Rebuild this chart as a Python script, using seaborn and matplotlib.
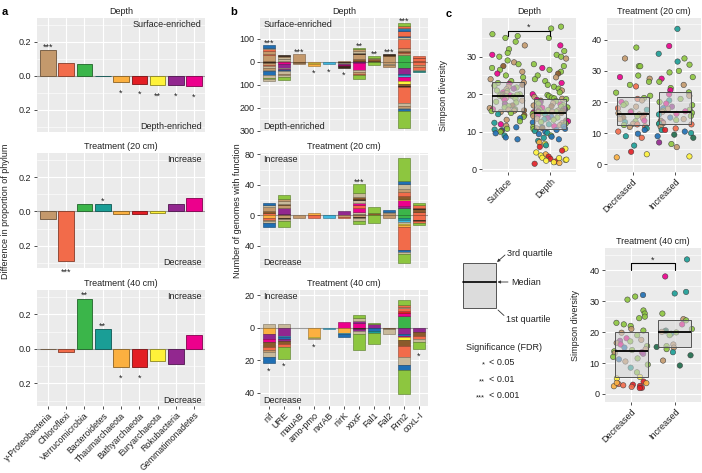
import numpy as np
import pandas as pd
import matplotlib
matplotlib.use("Agg")
import matplotlib.pyplot as plt
import matplotlib.colors as mcolors
from matplotlib.ticker import FixedLocator, FuncFormatter, NullLocator
import seaborn as sns

# ---------------- data ----------------
PAL = {
    "T": "#C4996C", "C": "#F26B4A", "V": "#3BB54A", "B": "#1A9E96",
    "O": "#FBB040", "R": "#E31E24", "Y": "#FFF23A", "P": "#92278F",
    "M": "#EC008C", "U": "#1F6FB4", "L": "#3FB8E0", "W": "#8B5A2B",
    "K": "#3A2618", "G": "#C8B99A", "E": "#8DC63F", "D": "#1E6B4A",
}

phyla = ["γ-Proteobacteria", "Chloroflexi", "Verrucomicrobia", "Bacteroidetes",
         "Thaumarchaeota", "Bathyarchaeota", "Euryarchaeota", "Rokubacteria",
         "Gemmatimonadetes"]
phyla_codes = ["T", "C", "V", "B", "O", "R", "Y", "P", "M"]
a_depth = [0.150, 0.078, 0.068, 0.002, -0.038, -0.048, -0.055, -0.055, -0.062]
a_t20 = [-0.042, -0.290, 0.045, 0.040, -0.018, -0.015, -0.008, 0.045, 0.078]
a_t40 = [-0.002, -0.020, 0.290, 0.115, -0.105, -0.105, -0.070, -0.085, 0.082]
a_depth_sig = ["***", "", "", "", "*", "*", "**", "*", "*"]
a_t20_sig = ["", "***", "", "*", "", "", "", "", ""]
a_t40_sig = ["", "", "**", "**", "*", "*", "", "", ""]

functions = ["nif", "URE", "mauAB", "amo-pmo", "nxrAB", "nirK", "xoxF",
             "Fal1", "Fal2", "Frm2", "coxL-I"]

# stacked segments (phylum code, genomes): up = enriched/increase, down = depleted/decrease
b_depth_up = [
    [("W", 5), ("T", 22), ("C", 6), ("T", 12), ("C", 12), ("G", 4), ("U", 11)],
    [("T", 5), ("G", 5), ("K", 3), ("G", 6), ("T", 5), ("K", 3)],
    [("T", 32)],
    [],
    [],
    [("T", 4)],
    [("K", 4), ("W", 6), ("T", 25), ("K", 4), ("G", 8), ("T", 8), ("E", 6)],
    [("K", 4), ("W", 6), ("T", 6), ("E", 7)],
    [("T", 24), ("W", 6), ("K", 2)],
    [("V", 28), ("T", 10), ("C", 6), ("W", 4), ("T", 12), ("C", 40), ("G", 8),
     ("U", 5), ("C", 20), ("U", 8), ("L", 4), ("C", 12), ("E", 10)],
    [("W", 3), ("C", 12), ("K", 2), ("C", 6)],
]
b_depth_down = [
    [("K", 6), ("T", 8), ("C", 6), ("G", 6), ("T", 10), ("G", 6), ("U", 18),
     ("G", 10), ("E", 6), ("G", 7)],
    [("O", 3), ("M", 5), ("P", 18), ("G", 6), ("P", 6), ("U", 4), ("G", 12),
     ("T", 6), ("G", 6), ("E", 15)],
    [("W", 4), ("T", 8)],
    [("O", 6), ("Y", 3), ("O", 8)],
    [("L", 10)],
    [("K", 4), ("G", 4), ("P", 5), ("K", 3), ("M", 4), ("K", 6)],
    [("P", 5), ("M", 30), ("G", 10), ("T", 8), ("C", 4), ("E", 20)],
    [("E", 15)],
    [("T", 8), ("G", 6), ("T", 8)],
    [("V", 29), ("P", 26), ("U", 5), ("L", 5), ("M", 20), ("Y", 13), ("W", 8),
     ("K", 3), ("C", 70), ("G", 15), ("T", 6), ("G", 4), ("U", 12), ("E", 74)],
    [("C", 15), ("T", 10), ("C", 12), ("G", 4), ("B", 5)],
]
b_depth_sig = ["***", "", "***", "*", "*", "*", "**", "**", "***", "***", ""]
b_depth_sig_down = [False, False, False, True, True, True, False, False, False, False, False]

b_t20_up = [
    [("C", 3), ("W", 3), ("T", 5), ("G", 2), ("U", 3)],
    [("K", 2), ("P", 8), ("T", 3), ("W", 2), ("G", 4), ("T", 2), ("E", 6)],
    [],
    [("W", 1), ("O", 2)],
    [("L", 1)],
    [("P", 6)],
    [("K", 2), ("G", 3), ("M", 5), ("C", 3), ("M", 3), ("G", 4), ("K", 1),
     ("W", 3), ("G", 5), ("E", 12)],
    [("W", 3), ("E", 8)],
    [("T", 3), ("G", 2), ("U", 2)],
    [("V", 9), ("P", 3), ("M", 8), ("Y", 1), ("W", 5), ("C", 5), ("T", 4),
     ("G", 6), ("U", 4), ("E", 30)],
    [("C", 4), ("W", 4), ("K", 1), ("C", 4), ("E", 3)],
]
b_t20_down = [
    [("O", 3), ("C", 3), ("T", 2), ("G", 2), ("U", 5)],
    [("T", 3), ("K", 2), ("G", 2), ("E", 8)],
    [("T", 4)],
    [("C", 3)],
    [("L", 4)],
    [("T", 2), ("C", 2)],
    [("T", 2), ("K", 1), ("G", 4), ("E", 4)],
    [("E", 10)],
    [("T", 4)],
    [("V", 3), ("B", 3), ("L", 3), ("G", 2), ("Y", 2), ("O", 2), ("C", 30),
     ("U", 3), ("G", 2), ("E", 13)],
    [("C", 6), ("K", 1), ("C", 3), ("E", 3)],
]
b_t20_sig = ["", "", "", "", "", "", "***", "", "", "", ""]
b_t20_sig_down = [False] * 11

b_t40_up = [
    [("G", 2.5)],
    [("G", 2.5)],
    [],
    [],
    [],
    [("M", 3.5)],
    [("M", 3), ("P", 1), ("G", 2), ("E", 2)],
    [("P", 2), ("E", 1)],
    [],
    [("V", 7), ("M", 2), ("R", 1), ("C", 2), ("G", 1), ("C", 1), ("E", 3)],
    [],
]
b_t40_down = [
    [("O", 4), ("P", 3), ("M", 2), ("W", 3), ("C", 2), ("T", 1), ("G", 3), ("U", 4)],
    [("P", 5), ("L", 1), ("U", 1), ("P", 1), ("W", 2), ("C", 2), ("E", 7)],
    [],
    [("O", 6), ("Y", 0.5), ("G", 0.5)],
    [("L", 1)],
    [("O", 3), ("L", 1), ("U", 2)],
    [("K", 1), ("P", 1), ("G", 2), ("E", 10)],
    [("U", 2), ("B", 1), ("E", 7)],
    [("W", 1), ("G", 3)],
    [("P", 4), ("U", 1), ("M", 1), ("Y", 1.5), ("W", 3.5), ("C", 7), ("G", 5),
     ("U", 3), ("E", 15)],
    [("P", 2.5), ("W", 2.5), ("C", 2), ("G", 1.5), ("E", 4.5)],
]
b_t40_sig = ["*", "*", "", "*", "", "", "", "", "", "", "*"]
b_t40_sig_down = [True, True, False, True, False, False, False, False, False, False, True]

# Simpson diversity per sample (value, colour code of dominant phylum)
surface_vals = [36.0, 35.5, 35.0, 34.0, 33.0, 32.0, 31.0, 30.5, 30.0, 29.0, 28.5,
                28.0, 27.5, 27.0, 26.5, 26.0, 25.5, 25.0, 24.5, 24.0, 23.5,
                23.1, 23.0, 22.8, 22.5, 22.3, 22.0, 21.8, 21.5, 21.3, 21.0, 20.8,
                20.5, 20.3, 20.0, 20.0, 19.9, 19.8, 19.7, 19.6, 19.5, 19.5,
                19.4, 19.2, 19.0, 18.8, 18.5, 18.3, 18.0, 17.8, 17.5, 17.3, 17.0,
                16.8, 16.5, 16.3, 16.0, 16.0, 15.9, 15.8, 15.7, 15.6, 15.5,
                15.3, 15.0, 14.7, 14.4, 14.0, 13.6, 13.2, 12.8, 12.4, 12.0, 11.6,
                11.2, 10.8, 10.6, 10.4, 10.2, 10.0, 9.6, 9.0, 8.5, 8.0]
surface_cols = ("EEEETEEMEETEWEETMEETE" "TEMWETEPTEEMTWEETMEET"
                "EWTEMTEETPWEETMETEWTE" "TEBWEUTEBMTUEBUWEUBUU")
depth_vals = [38.0, 37.5, 35.0, 33.0, 31.5, 30.5, 30.0, 29.5, 28.0, 27.5, 27.0, 26.5,
              26.0, 25.5, 25.0, 24.5, 24.0, 23.5, 23.0, 22.5, 22.0, 21.5, 21.0, 20.5,
              20.0, 19.8, 19.5, 19.3, 19.1, 18.9,
              18.8, 18.7, 18.5, 18.3, 18.2, 18.0, 17.8, 17.6, 17.5, 17.3, 17.1, 17.0,
              16.8, 16.7, 16.5, 16.4, 16.2, 16.1, 16.0, 15.9, 15.8, 15.7, 15.6, 15.5,
              15.4, 15.3, 15.3, 15.2, 15.2, 15.1,
              15.0, 14.9, 14.8, 14.6, 14.5, 14.3, 14.2, 14.0, 13.8, 13.7, 13.5, 13.3,
              13.2, 13.0, 12.8, 12.6, 12.5, 12.3, 12.2, 12.0, 11.8, 11.7, 11.5, 11.4,
              11.3, 11.2, 11.0, 10.9, 10.8, 10.7,
              10.5, 10.2, 10.0, 9.7, 9.4, 9.0, 8.7, 8.4, 8.0, 7.6, 7.2, 6.8, 6.4, 6.0,
              5.5, 5.0, 4.5, 4.0, 3.7, 3.4, 3.1, 2.8, 2.5, 2.3, 2.1, 1.9, 1.7, 1.5,
              3.0, 2.6]
depth_cols = ("EEEMEEETEEMEEWETEEMEEETEMEETEE" "TEMWEEPTEMETWEEMTEPEETWMEETEME"
              "WTEBEMTUEPTBEWMEUTEBTEMUEBWTUE" "UBUBUEUBUBOYBRYRYOYRYRYYRYORYY")
t20_dec_vals = [37.5, 34.0, 31.5, 31.5, 28.5, 28.0, 27.5, 26.5, 25.5, 25.0, 23.0, 22.0,
                21.3, 21.0, 20.5, 20.0, 19.5, 19.0, 18.5, 18.0, 17.5, 17.0, 16.8, 16.4,
                16.0, 15.8, 15.5, 15.0, 14.8, 14.5, 14.0, 13.8, 13.5, 13.0, 12.8, 12.6,
                12.2, 12.0, 11.5, 11.0, 10.5, 9.8, 9.0, 8.5, 6.0, 4.0, 3.2, 2.2]
t20_dec_cols = "ETEEEMTEECEE" "ECTMEETCBEMT" "TCEWCTMEBTCE" "CTBUCUBCBRYO"
t20_inc_vals = [43.5, 38.0, 35.5, 34.0, 33.0, 32.0, 30.0, 29.5, 28.0, 27.5, 26.5, 25.5,
                24.5, 23.8,
                23.1, 22.5, 22.0, 21.0, 20.5, 20.0, 19.5, 19.0, 18.5, 18.0, 17.8, 17.5,
                17.2, 17.0,
                16.8, 16.5, 16.2, 16.0, 15.5, 15.0, 14.5, 14.2, 14.0, 13.8, 13.5, 13.2,
                13.0, 13.0,
                12.8, 12.0, 11.5, 11.0, 11.0, 10.5, 10.0, 9.5, 9.0, 8.5, 7.0, 6.5, 5.5, 2.5]
t20_inc_cols = "BMBEBEEEEMETEM" "EMTEBEMEPUTEEM" "TEMBEUTECEMTEB" "CTCBRUBDUDPETY"
t40_dec_vals = [32.0, 31.5, 30.5, 27.0, 26.0, 25.0, 24.5, 23.0, 22.5, 22.0, 21.0, 20.5,
                19.8, 19.0, 18.0, 17.5, 17.2, 17.0, 16.5, 16.0, 15.5, 15.0, 14.5, 14.2,
                13.8, 13.5, 13.2, 13.0, 12.0, 11.5, 11.2, 10.5, 9.5, 8.5, 7.0, 5.5,
                5.0, 4.0, 3.5, 3.2, 3.0, 2.8, 2.6, 2.5, 2.3, 2.0, 1.9, 3.6]
t40_dec_cols = "UEEEEEEEEETE" "TEMTPETMEUTE" "EMTPEEUTEBEY" "YROCRCROCRRO"
t40_inc_vals = [43.5, 38.0, 33.0, 32.5, 26.0, 24.2,
                23.8, 22.5, 21.0, 20.5, 20.3, 20.1,
                19.9, 19.5, 19.0, 16.0, 15.5, 15.2,
                15.0, 14.5, 13.5, 12.5, 10.8, 9.2]
t40_inc_cols = "BMBBET" "EMEBDT" "EBETED" "TEBDTD"

# ---------------- style ----------------
W, H = 702, 473
sns.set_theme(style="darkgrid", rc={
    "axes.facecolor": "#EBEBEB", "grid.color": "white",
    "axes.edgecolor": "#EBEBEB", "figure.facecolor": "white"})
plt.rcParams["font.family"] = ["Liberation Sans", "DejaVu Sans"]
FS = 6.5
TXT = "#222222"

fig = plt.figure(figsize=(W / 100, H / 100), dpi=100)


def add_ax(x0, y0, x1, y1):
    return fig.add_axes([x0 / W, 1 - y1 / H, (x1 - x0) / W, (y1 - y0) / H])


def darken(c, f=0.6):
    r, g, b = mcolors.to_rgb(c)
    return (r * f, g * f, b * f)


def style_ax(ax, yt, ymin, show_x, fmt):
    ax.set_axisbelow(True)
    for s in ax.spines.values():
        s.set_visible(False)
    ax.yaxis.set_major_locator(FixedLocator(yt))
    ax.yaxis.set_minor_locator(FixedLocator(ymin))
    ax.yaxis.set_major_formatter(FuncFormatter(fmt))
    ax.xaxis.set_minor_locator(NullLocator())
    ax.grid(which="major", color="white", lw=0.8)
    ax.grid(which="minor", axis="y", color="white", lw=0.4)
    ax.tick_params(axis="both", which="major", length=2.5, width=0.6, color="#333333",
                   labelsize=FS, labelcolor=TXT, pad=1.5, left=True, bottom=True)
    ax.tick_params(axis="y", which="minor", length=0, left=False)
    if not show_x:
        ax.tick_params(axis="x", length=0, labelbottom=False)
    ax.set_xlabel("")
    ax.set_ylabel("")


def rot_labels(ax, labels, fs=FS):
    ax.set_xticks(range(len(labels)))
    ax.set_xticklabels(labels, rotation=45, ha="right", va="top",
                       rotation_mode="anchor", fontsize=fs, color=TXT)
    ax.tick_params(axis="x", pad=1.0)


def star(ax, x, y, s, down, up_off=0.0, down_off=-8.5):
    ax.annotate(s, (x, y), xytext=(0, down_off if down else up_off),
                textcoords="offset points", ha="center", va="baseline",
                fontsize=FS, color=TXT)


fmt_a = lambda v, p: f"{abs(v):.1f}"
fmt_b = lambda v, p: f"{abs(v):g}"
fmt_c = lambda v, p: f"{v:g}"

rows = [(18, 132), (153, 268), (290, 406)]

# ---------------- panel a ----------------
a_data = [(a_depth, a_depth_sig, "Depth", "Surface-enriched", "Depth-enriched"),
          (a_t20, a_t20_sig, "Treatment (20 cm)", "Increase", "Decrease"),
          (a_t40, a_t40_sig, "Treatment (40 cm)", "Increase", "Decrease")]
pal_a = {p: PAL[c] for p, c in zip(phyla, phyla_codes)}
for r, (vals, sig, title, top_t, bot_t) in enumerate(a_data):
    ax = add_ax(37, rows[r][0], 205, rows[r][1])
    ax.axhline(0, color="#9A9A9A", lw=0.8, zorder=0.8)
    sns.barplot(x=phyla, y=vals, hue=phyla, palette=pal_a, order=phyla,
                legend=False, width=0.85, saturation=1, ax=ax, zorder=2)
    for p, code in zip(ax.patches, phyla_codes):
        p.set_edgecolor(darken(PAL[code], 0.55))
        p.set_linewidth(0.6)
    ax.set_xlim(-0.6, 8.6)
    ax.set_ylim(-0.33, 0.34)
    style_ax(ax, [-0.2, 0.0, 0.2], [-0.3, -0.1, 0.1, 0.3], r == 2, fmt_a)
    if r == 2:
        rot_labels(ax, phyla, fs=6.3)
    for i, (v, s) in enumerate(zip(vals, sig)):
        if s:
            star(ax, i, v, s, v < 0, up_off=0.5, down_off=-9.5)
    ax.set_title(title, fontsize=FS, color=TXT, pad=3)
    ax.text(0.98, 0.947, top_t, transform=ax.transAxes, ha="right", va="center",
            fontsize=FS, color=TXT)
    ax.text(0.98, 0.044, bot_t, transform=ax.transAxes, ha="right", va="center",
            fontsize=FS, color=TXT)

fig.text(6 / W, 1 - 211 / H, "Difference in proportion of phylum", rotation=90,
         ha="center", va="center", fontsize=FS, color=TXT)

# ---------------- panel b ----------------
b_data = [(b_depth_up, b_depth_down, b_depth_sig, b_depth_sig_down, "Depth",
           "Surface-enriched", "Depth-enriched", (-306, 190),
           [-300, -200, -100, 0, 100], [-250, -150, -50, 50, 150]),
          (b_t20_up, b_t20_down, b_t20_sig, b_t20_sig_down, "Treatment (20 cm)",
           "Increase", "Decrease", (-69, 81.7), [-40, 0, 40, 80], [-60, -20, 20, 60]),
          (b_t40_up, b_t40_down, b_t40_sig, b_t40_sig_down, "Treatment (40 cm)",
           "Increase", "Decrease", (-48.2, 23.2), [-40, -20, 0, 20], [-30, -10, 10])]
for r, (ups, downs, sig, sigd, title, top_t, bot_t, yl, yt, ym) in enumerate(b_data):
    ax = add_ax(260, rows[r][0], 428, rows[r][1])
    ax.axhline(0, color="#9A9A9A", lw=0.8, zorder=0.8)
    for i in range(len(functions)):
        b = 0.0
        for code, h in ups[i]:
            ax.bar(i, h, bottom=b, width=0.8, color=PAL[code],
                   edgecolor=darken(PAL[code], 0.6), lw=0.4, zorder=2)
            b += h
        top = b
        b = 0.0
        for code, h in downs[i]:
            ax.bar(i, -h, bottom=b, width=0.8, color=PAL[code],
                   edgecolor=darken(PAL[code], 0.6), lw=0.4, zorder=2)
            b -= h
        bottom = b
        if sig[i]:
            if sigd[i]:
                star(ax, i, bottom, sig[i], True, down_off=-7.5)
            else:
                star(ax, i, top, sig[i], False, up_off=-0.5)
    ax.set_xlim(-0.6, 10.6)
    ax.set_ylim(*yl)
    style_ax(ax, yt, ym, r == 2, fmt_b)
    if r == 2:
        rot_labels(ax, functions)
    else:
        ax.set_xticks(range(len(functions)))
    ax.set_title(title, fontsize=FS, color=TXT, pad=3)
    ax.text(0.02, 0.947, top_t, transform=ax.transAxes, ha="left", va="center",
            fontsize=FS, color=TXT)
    ax.text(0.02, 0.044, bot_t, transform=ax.transAxes, ha="left", va="center",
            fontsize=FS, color=TXT)

fig.text(238 / W, 1 - 211 / H, "Number of genomes with function", rotation=90,
         ha="center", va="center", fontsize=FS, color=TXT)

# ---------------- panel c ----------------
c_data = [
    ((482, 18, 576, 172), ["Surface", "Depth"], [surface_vals, depth_vals],
     [surface_cols, depth_cols], "Depth", (-0.7, 40.3), [0, 10, 20, 30],
     [5, 15, 25, 35], (35.4, 36.9)),
    ((607, 18, 701, 172), ["Decreased", "Increased"], [t20_dec_vals, t20_inc_vals],
     [t20_dec_cols, t20_inc_cols], "Treatment (20 cm)", (-2.5, 47),
     [0, 10, 20, 30, 40], [5, 15, 25, 35, 45], None),
    ((605, 248, 701, 402), ["Decreased", "Increased"], [t40_dec_vals, t40_inc_vals],
     [t40_dec_cols, t40_inc_cols], "Treatment (40 cm)", (-2.6, 47.2),
     [0, 10, 20, 30, 40], [5, 15, 25, 35, 45], (40.1, 42.3)),
]
np.random.seed(7)
for box, groups, vals, cols, title, yl, yt, ym, bracket in c_data:
    ax = add_ax(*box)
    df = pd.DataFrame({
        "group": np.concatenate([[g] * len(v) for g, v in zip(groups, vals)]),
        "value": np.concatenate(vals),
        "code": list("".join(cols)),
    })
    sns.stripplot(data=df, x="group", y="value", hue="code", palette=PAL,
                  order=groups, jitter=0.42, size=3.9, linewidth=0.4,
                  edgecolor="#3a3a3a", alpha=0.9, legend=False, ax=ax, zorder=2)
    sns.boxplot(data=df, x="group", y="value", order=groups, width=0.75, whis=0,
                showcaps=False, showfliers=False, color="#D4D4D4",
                linecolor="#555555", linewidth=0.7,
                medianprops=dict(color="black", linewidth=1.3), ax=ax)
    for p in ax.patches:
        p.set_facecolor((0.83, 0.83, 0.83, 0.55))
        p.set_zorder(3)
    for ln in ax.lines:
        ln.set_zorder(4)
    ax.set_xlim(-0.6, 1.6)
    ax.set_ylim(*yl)
    style_ax(ax, yt, ym, True, fmt_c)
    rot_labels(ax, groups)
    ax.set_title(title, fontsize=FS, color=TXT, pad=3)
    if bracket:
        lo, hi = bracket
        ax.plot([0, 0, 1, 1], [lo, hi, hi, lo], color="black", lw=0.8, zorder=5)
        ax.annotate("*", (0.5, hi), xytext=(0, 0.5), textcoords="offset points",
                    ha="center", va="baseline", fontsize=FS, color=TXT)

fig.text(444 / W, 1 - 95 / H, "Simpson diversity", rotation=90, ha="center",
         va="center", fontsize=FS, color=TXT)
fig.text(576 / W, 1 - 325 / H, "Simpson diversity", rotation=90, ha="center",
         va="center", fontsize=FS, color=TXT)

# ---------------- box legend ----------------
lax = fig.add_axes([0, 0, 1, 1], facecolor="none")
lax.set_xlim(0, W)
lax.set_ylim(H, 0)
lax.axis("off")
lax.add_patch(plt.Rectangle((463, 263), 33, 45, facecolor="#DCDCDC",
                            edgecolor="#555555", lw=0.7))
lax.plot([463, 496], [282, 282], color="black", lw=1.2)
lax.annotate("", xy=(497, 262), xytext=(505, 255),
             arrowprops=dict(arrowstyle="-|>", color="#333333", lw=0.6,
                             mutation_scale=4, shrinkA=0, shrinkB=0))
lax.text(507, 253, "3rd quartile", ha="left", va="center", fontsize=FS, color=TXT)
lax.annotate("", xy=(497.5, 282), xytext=(508, 282),
             arrowprops=dict(arrowstyle="-|>", color="#333333", lw=0.6,
                             mutation_scale=4, shrinkA=0, shrinkB=0))
lax.text(511, 282, "Median", ha="left", va="center", fontsize=FS, color=TXT)
lax.plot([498, 504], [310, 315.5], color="#333333", lw=0.6)
lax.text(506, 319, "1st quartile", ha="left", va="center", fontsize=FS, color=TXT)
lax.text(466, 347, "Significance (FDR)", ha="left", va="center", fontsize=FS, color=TXT)
for yy, s, tx in [(362.5, "*", "< 0.05"), (379, "**", "< 0.01"), (395, "***", "< 0.001")]:
    lax.text(485, yy + 4, s, ha="right", va="baseline", fontsize=FS - 1, color=TXT)
    lax.text(489, yy, tx, ha="left", va="center", fontsize=FS, color=TXT)

# panel letters
for x, y, s in [(5, 12, "a"), (234, 12, "b"), (449, 14, "c")]:
    fig.text(x / W, 1 - y / H, s, ha="center", va="center", fontsize=8,
             fontweight="bold", color="black")

fig.savefig("out.png", dpi=100)
